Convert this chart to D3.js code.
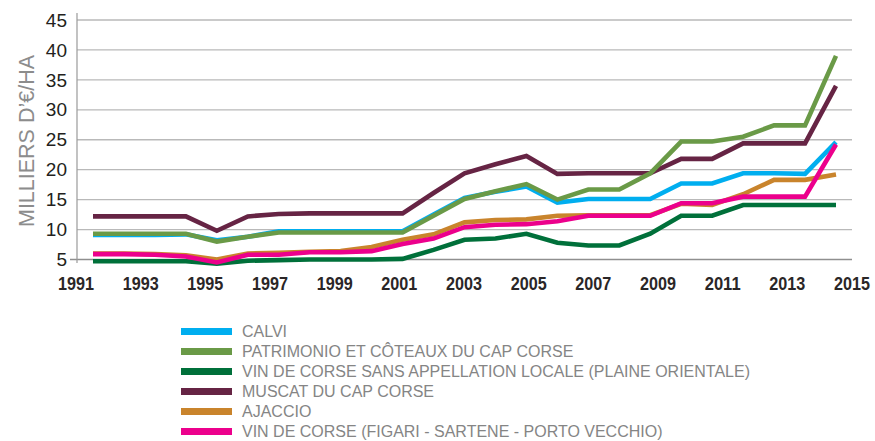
<!DOCTYPE html>
<html>
<head>
<meta charset="utf-8">
<script src="https://cdn.jsdelivr.net/npm/d3@7"></script>
<style>
  html, body { margin: 0; padding: 0; background: #fff; }
  svg { display: block; font-family: "Liberation Sans", Arial, Helvetica, sans-serif; }
</style>
</head>
<body>
<svg id="chart" width="875" height="441"></svg>
<script>
// Annual values, thousands of euros per hectare
const years = d3.range(1991, 2016);
const axisYears = d3.range(1991, 2016, 2);
const yTicks = [5, 10, 15, 20, 25, 30, 35, 40, 45];

const calvi = [9.1, 9.1, 9.1, 9.2, 8.2, 8.8, 9.7, 9.7, 9.7, 9.7, 9.7, 12.5, 15.3, 16.3, 17.2, 14.5, 15.1, 15.1, 15.1, 17.7, 17.7, 19.4, 19.4, 19.3, 24.6];
const patrimonio = [9.3, 9.3, 9.3, 9.3, 8.0, 8.8, 9.5, 9.5, 9.5, 9.5, 9.5, 12.3, 15.1, 16.4, 17.6, 15.0, 16.7, 16.7, 19.4, 24.7, 24.7, 25.5, 27.4, 27.4, 39.0];
const plaineOrientale = [4.7, 4.7, 4.7, 4.7, 4.3, 4.8, 4.9, 5.0, 5.0, 5.0, 5.1, 6.6, 8.3, 8.5, 9.3, 7.8, 7.35, 7.35, 9.3, 12.3, 12.3, 14.1, 14.1, 14.1, 14.1];
const muscat = [12.2, 12.2, 12.2, 12.2, 9.8, 12.2, 12.6, 12.7, 12.7, 12.7, 12.7, 16.1, 19.4, 20.9, 22.3, 19.3, 19.4, 19.4, 19.4, 21.8, 21.8, 24.4, 24.4, 24.4, 34.0];
const ajaccio = [6.0, 6.0, 5.9, 5.7, 5.0, 6.0, 6.1, 6.3, 6.4, 7.1, 8.3, 9.2, 11.2, 11.6, 11.7, 12.3, 12.4, 12.4, 12.4, 14.3, 14.1, 15.9, 18.3, 18.3, 19.2];
const figari = [5.9, 5.9, 5.8, 5.5, 4.5, 5.8, 5.8, 6.2, 6.2, 6.4, 7.6, 8.5, 10.4, 10.8, 10.9, 11.4, 12.3, 12.3, 12.3, 14.4, 14.4, 15.5, 15.5, 15.5, 24.2];

const seriesNames = [
  "CALVI",
  "PATRIMONIO ET CÔTEAUX DU CAP CORSE",
  "VIN DE CORSE SANS APPELLATION LOCALE (PLAINE ORIENTALE)",
  "MUSCAT DU CAP CORSE",
  "AJACCIO",
  "VIN DE CORSE (FIGARI - SARTENE - PORTO VECCHIO)"
];
const seriesValues = [calvi, patrimonio, plaineOrientale, muscat, ajaccio, figari];
const seriesColors = ["#00aeef", "#6a9a47", "#00703a", "#662444", "#c9842c", "#ec008c"];
// painting order (later = on top)
const drawOrder = [0, 2, 3, 1, 4, 5];

const svg = d3.select("#chart");

const yScale = d3.scaleLinear().domain([5, 45]).range([259.5, 20]);
const xAxisScale = d3.scaleLinear().domain([1991, 2015]).range([76, 852]);
const xData = d3.scalePoint().domain(years).range([93, 836]);

const gridLeft = 77, gridRight = 852;

// horizontal gridlines
svg.append("g")
  .selectAll("line")
  .data(yTicks)
  .join("line")
  .attr("x1", d => d === 5 ? 70 : gridLeft)
  .attr("x2", gridRight)
  .attr("y1", d => yScale(d))
  .attr("y2", d => yScale(d))
  .attr("stroke", d => d === 5 ? "#8f8f8f" : "#b9b9b9")
  .attr("stroke-width", 1.3);

// vertical axis line
svg.append("line")
  .attr("x1", gridLeft).attr("x2", gridLeft)
  .attr("y1", 13).attr("y2", 263)
  .attr("stroke", "#9a9a9a")
  .attr("stroke-width", 1.2);

// y tick labels
svg.append("g")
  .selectAll("text")
  .data(yTicks)
  .join("text")
  .attr("x", 67)
  .attr("y", d => yScale(d))
  .attr("dy", "0.35em")
  .attr("text-anchor", "end")
  .attr("font-size", 19)
  .attr("fill", "#231f20")
  .text(d => d);

// x tick labels (condensed)
svg.append("g")
  .selectAll("text")
  .data(axisYears)
  .join("text")
  .attr("x", d => xAxisScale(d))
  .attr("y", 290)
  .attr("text-anchor", "middle")
  .attr("font-size", 19)
  .attr("font-weight", "bold")
  .attr("fill", "#2a2627")
  .attr("textLength", 36)
  .attr("lengthAdjust", "spacingAndGlyphs")
  .text(d => d);

// y axis title
svg.append("text")
  .attr("transform", "translate(34,141) rotate(-90)")
  .attr("text-anchor", "middle")
  .attr("font-size", 21.5)
  .attr("fill", "#8c8c8c")
  .text("MILLIERS D\u2019\u20AC/HA");

// series lines
const line = d3.line()
  .x((d, i) => xData(years[i]))
  .y(d => yScale(d));

svg.append("g")
  .selectAll("path")
  .data(drawOrder)
  .join("path")
  .attr("d", k => line(seriesValues[k]))
  .attr("fill", "none")
  .attr("stroke", k => seriesColors[k])
  .attr("stroke-width", 4.6)
  .attr("stroke-linejoin", "miter")
  .attr("stroke-linecap", "butt");

// legend
const legend = svg.append("g")
  .selectAll("g")
  .data(seriesNames)
  .join("g")
  .attr("transform", (d, i) => `translate(181,${331.5 + i * 20})`);

legend.append("rect")
  .attr("x", 0).attr("y", -3.5)
  .attr("width", 51).attr("height", 7)
  .attr("fill", (d, i) => seriesColors[i]);

legend.append("text")
  .attr("x", 61)
  .attr("y", 0)
  .attr("dy", "0.36em")
  .attr("font-size", 16)
  .attr("fill", "#858585")
  .text(d => d);
</script>
</body>
</html>
